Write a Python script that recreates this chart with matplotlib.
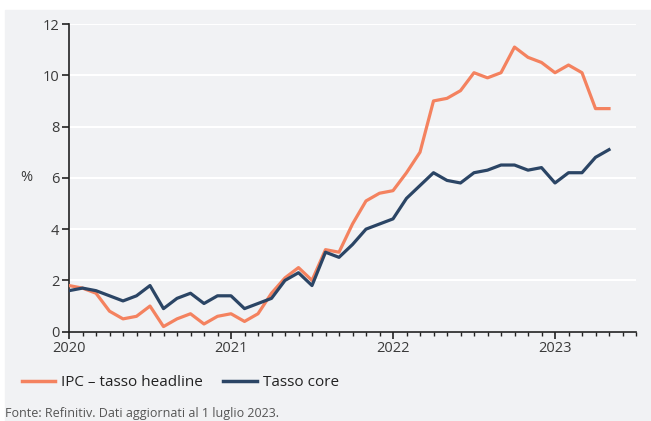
import matplotlib.pyplot as plt
from matplotlib.lines import Line2D

# Inflazione UK: headline vs core, gen 2020 - mag 2023

years = ["2020", "2021", "2022", "2023"]

headline = [1.8, 1.7, 1.5, 0.8, 0.5, 0.6, 1.0, 0.2, 0.5, 0.7, 0.3, 0.6,
            0.7, 0.4, 0.7, 1.5, 2.1, 2.5, 2.0, 3.2, 3.1, 4.2, 5.1, 5.4,
            5.5, 6.2, 7.0, 9.0, 9.1, 9.4, 10.1, 9.9, 10.1, 11.1, 10.7, 10.5,
            10.1, 10.4, 10.1, 8.7, 8.7]

core = [1.6, 1.7, 1.6, 1.4, 1.2, 1.4, 1.8, 0.9, 1.3, 1.5, 1.1, 1.4,
        1.4, 0.9, 1.1, 1.3, 2.0, 2.3, 1.8, 3.1, 2.9, 3.4, 4.0, 4.2,
        4.4, 5.2, 5.7, 6.2, 5.9, 5.8, 6.2, 6.3, 6.5, 6.5, 6.3, 6.4,
        5.8, 6.2, 6.2, 6.8, 7.1]

ORANGE = "#f4825f"
NAVY = "#2b4565"
BG = "#f1f2f4"
TXT = "#3a3a3a"

plt.rcParams["font.family"] = ["Open Sans", "DejaVu Sans"]

fig = plt.figure(figsize=(6.51, 4.21), dpi=100)
fig.patches.append(plt.Rectangle((5 / 651, 0), 1, 1 - 10 / 421,
                                 transform=fig.transFigure, color=BG, zorder=-5))
ax = fig.add_axes([69 / 651, 1 - 331.7 / 421, 567 / 651, 307.7 / 421])
ax.set_facecolor(BG)

months = list(range(len(headline)))
ax.plot(months, headline, color=ORANGE, lw=2.3, zorder=3)
ax.plot(months, core, color=NAVY, lw=2.3, zorder=3)

ax.set_xlim(0, 42)
ax.set_ylim(0, 12)
ax.set_yticks(range(0, 13, 2))
ax.set_xticks([0, 12, 24, 36])
ax.set_xticklabels(years)
ax.set_xticks(range(0, 43), minor=True)
ax.grid(axis="y", color="white", lw=1.5)
ax.set_axisbelow(True)

for s in ["top", "right"]:
    ax.spines[s].set_visible(False)
for s in ["left", "bottom"]:
    ax.spines[s].set_color("#222222")
    ax.spines[s].set_linewidth(1.2)

ax.tick_params(axis="both", which="major", length=5, width=1.2, color="#222222",
               labelsize=10.5, labelcolor=TXT, pad=2)
ax.tick_params(axis="x", which="minor", length=3, width=1.0, color="#222222")

ax.set_ylabel("%", rotation=0, fontsize=10.5, color=TXT, labelpad=12, va="center")

handles = [Line2D([], [], color=ORANGE, lw=2.5), Line2D([], [], color=NAVY, lw=2.5)]
fig.legend(handles, ["IPC \u2013 tasso headline", "Tasso core"],
           loc="center left", bbox_to_anchor=(8 / 651, 1 - 383 / 421), ncol=2,
           frameon=False, fontsize=11, handlelength=2.2, handletextpad=0.4,
           columnspacing=1.3, labelcolor="#222222")

fig.text(5 / 651, 1 - 413 / 421, "Fonte: Refinitiv. Dati aggiornati al 1 luglio 2023.",
         fontsize=9, color="#555555", va="center")

fig.savefig("out.png", dpi=100)
